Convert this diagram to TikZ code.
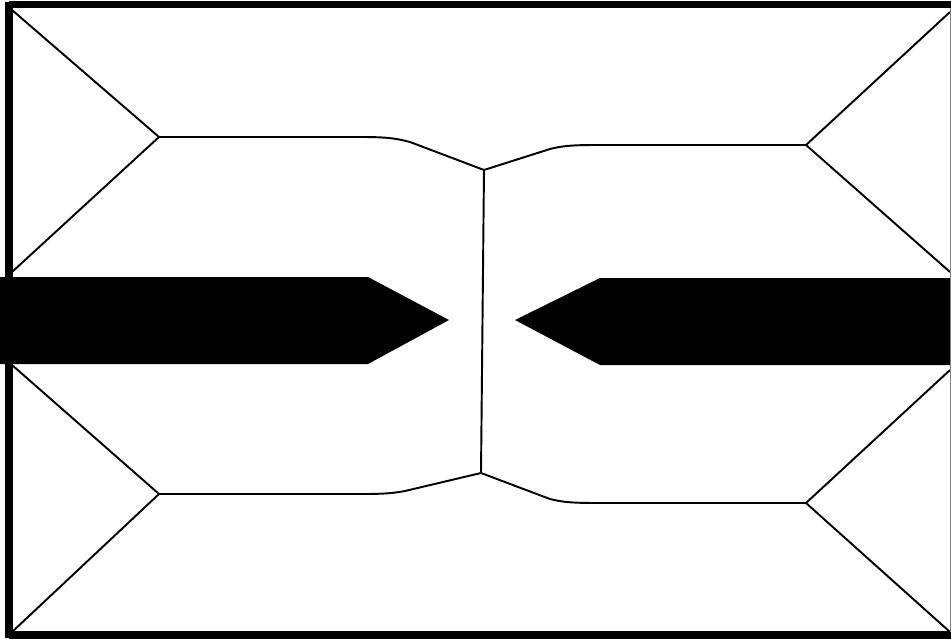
\documentclass[tikz,border=0pt]{standalone}
\usepackage{tikz}
\usetikzlibrary{calc}

\begin{document}
\begin{tikzpicture}[x=0.02cm, y=-0.02cm,
    edge/.style={line width=1.1pt, black},
    frame/.style={line width=4pt, black},
    bigarrow/.style={fill=black, draw=none}]
    \useasboundingbox (0,0) rectangle (951,639);

    % corners and junctions
    \coordinate (tl) at (12,10);
    \coordinate (tr) at (950,12);
    \coordinate (bl) at (12,632);
    \coordinate (br) at (950,632);
    \coordinate (ml1) at (12,272);
    \coordinate (ml2) at (12,365);
    \coordinate (mr1) at (950,272);
    \coordinate (mr2) at (950,370);
    \coordinate (jtl) at (159,137);
    \coordinate (jbl) at (159,494);
    \coordinate (jtr) at (806,145);
    \coordinate (jbr) at (806,503);
    \coordinate (ctop) at (484,170);
    \coordinate (cbot) at (481,473);

    % arrows
    \fill[bigarrow] (0,277) -- (368,277) -- (449,320) -- (368,364) -- (0,364) -- cycle;
    \fill[bigarrow] (951,278) -- (600,278) -- (515,320) -- (600,365) -- (951,365) -- cycle;

    % diagonals
    \draw[edge] (tl) -- (jtl) -- (ml1);
    \draw[edge] (ml2) -- (jbl) -- (bl);
    \draw[edge] (tr) -- (jtr) -- (mr1);
    \draw[edge] (mr2) -- (jbr) -- (br);

    % ridges
    \draw[edge] (jtl) -- (360,137) .. controls (385,137) and (395,138) .. (410,142) -- (ctop);
    \draw[edge] (ctop) -- (550,149) .. controls (565,145) and (580,145) .. (603,145) -- (jtr);
    \draw[edge] (jbl) -- (360,494) .. controls (375,494) and (390,494) .. (405,491) -- (cbot);
    \draw[edge] (cbot) -- (550,499) .. controls (565,503) and (580,503) .. (603,503) -- (jbr);
    \draw[edge] (ctop) -- (cbot);

    % outer frame
    \draw[frame] (9,4.5) -- (958,4.5);
    \draw[frame] (9,635) -- (958,635);
    \draw[frame] (9,2) -- (9,638);
    \draw[line width=0.6pt, black!50] (950.5,8) -- (950.5,632);
\end{tikzpicture}
\end{document}
